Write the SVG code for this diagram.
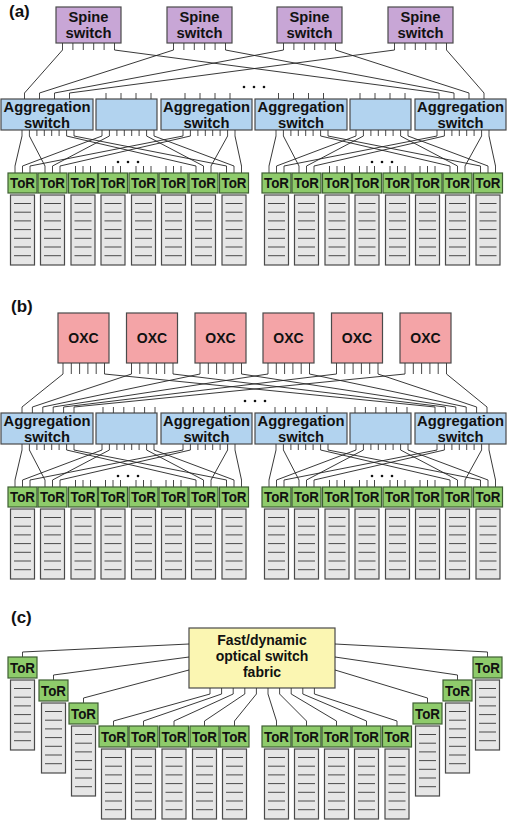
<svg xmlns="http://www.w3.org/2000/svg" xmlns:xlink="http://www.w3.org/1999/xlink" width="508" height="820" viewBox="0 0 508 820">
<style>
.t{font-family:"Liberation Sans",Arial,sans-serif;font-weight:bold;font-size:14px;text-anchor:middle;fill:#111}
.tt{font-family:"Liberation Sans",Arial,sans-serif;font-weight:bold;font-size:15px;text-anchor:middle;fill:#111}
.lb{font-family:"Liberation Sans",Arial,sans-serif;font-weight:bold;font-size:17px;fill:#111}
.sp{fill:#c8a6d6;stroke:#4a4a4a;stroke-width:1.2}
.ag{fill:#b2d3ef;stroke:#4a4a4a;stroke-width:1.2}
.ox{fill:#f4a4a7;stroke:#4a4a4a;stroke-width:1.2}
.fb{fill:#fbf6b2;stroke:#4a4a4a;stroke-width:1.2}
.tr{fill:#8ecb6b;stroke:#3e5f33;stroke-width:1.2}
.rk{fill:#e6e6e6;stroke:#4a4a4a;stroke-width:1.2}
.rl{stroke:#4a4a4a;stroke-width:1;fill:none}
.pt{stroke:#333;stroke-width:0.9;fill:none}
.w{stroke:#222;stroke-width:0.9;fill:none}
.dt{fill:#111}
</style>
<defs>
<g id="rack"><rect class="rk" width="24" height="70"/><path class="rl" d="M3.5 8.5h17M3.5 17.2h17M3.5 25.9h17M3.5 34.6h17M3.5 43.3h17M3.5 52h17M3.5 60.7h17"/></g>
<path id="tk3" class="pt" d="M7 0v7M14.5 0v7M22 0v7"/>
<path id="tk1" class="pt" d="M14.5 0v5"/>
</defs>

<text class="lb" x="9" y="17">(a)</text>
<text class="lb" x="11" y="312">(b)</text>
<text class="lb" x="11" y="623">(c)</text>

<!-- ===== Panel (a) ===== -->
<g id="a-spine1"><rect class="sp" x="56" y="7" width="65" height="36"/><text class="t" x="88.5" y="21.5" textLength="40" lengthAdjust="spacingAndGlyphs">Spine</text><text class="t" x="88.5" y="37.5" textLength="46" lengthAdjust="spacingAndGlyphs">switch</text><path class="pt" d="M62.5 43v7M72.9 43v7M83.3 43v7M93.7 43v7M104.1 43v7M114.5 43v7"/></g>
<g id="a-spine2"><rect class="sp" x="167" y="7" width="65" height="36"/><text class="t" x="199.5" y="21.5" textLength="40" lengthAdjust="spacingAndGlyphs">Spine</text><text class="t" x="199.5" y="37.5" textLength="46" lengthAdjust="spacingAndGlyphs">switch</text><path class="pt" d="M173.5 43v7M183.9 43v7M194.3 43v7M204.7 43v7M215.1 43v7M225.5 43v7"/></g>
<g id="a-spine3"><rect class="sp" x="277" y="7" width="65" height="36"/><text class="t" x="309.5" y="21.5" textLength="40" lengthAdjust="spacingAndGlyphs">Spine</text><text class="t" x="309.5" y="37.5" textLength="46" lengthAdjust="spacingAndGlyphs">switch</text><path class="pt" d="M283.5 43v7M293.9 43v7M304.3 43v7M314.7 43v7M325.1 43v7M335.5 43v7"/></g>
<g id="a-spine4"><rect class="sp" x="388" y="7" width="65" height="36"/><text class="t" x="420.5" y="21.5" textLength="40" lengthAdjust="spacingAndGlyphs">Spine</text><text class="t" x="420.5" y="37.5" textLength="46" lengthAdjust="spacingAndGlyphs">switch</text><path class="pt" d="M394.5 43v7M404.9 43v7M415.3 43v7M425.7 43v7M436.1 43v7M446.5 43v7"/></g>

<g id="a-agg1"><rect class="ag" x="1" y="99" width="92" height="31"/><text class="t" x="47" y="111.5" textLength="87" lengthAdjust="spacingAndGlyphs">Aggregation</text><text class="t" x="47" y="127.5" textLength="46" lengthAdjust="spacingAndGlyphs">switch</text><path class="pt" d="M24.5 93v6M39.5 93v6M54.5 93v6M69.5 93v6M22 130v6M29.4 130v6M36.9 130v6M44.3 130v6M51.7 130v6M59.1 130v6M66.6 130v6M74 130v6"/></g>
<g id="a-agg2"><rect class="ag" x="96" y="99" width="61" height="31"/><path class="pt" d="M106 93v6M121 93v6M136 93v6M151 93v6M102 130v6M109.4 130v6M116.9 130v6M124.3 130v6M131.7 130v6M139.1 130v6M146.6 130v6M154 130v6"/></g>
<g id="a-agg3"><rect class="ag" x="161" y="99" width="91" height="31"/><text class="t" x="206.5" y="111.5" textLength="87" lengthAdjust="spacingAndGlyphs">Aggregation</text><text class="t" x="206.5" y="127.5" textLength="46" lengthAdjust="spacingAndGlyphs">switch</text><path class="pt" d="M185 93v6M200 93v6M215 93v6M230 93v6M183 130v6M190.4 130v6M197.9 130v6M205.3 130v6M212.7 130v6M220.1 130v6M227.6 130v6M235 130v6"/></g>
<g id="a-agg4"><rect class="ag" x="255" y="99" width="92" height="31"/><text class="t" x="301" y="111.5" textLength="87" lengthAdjust="spacingAndGlyphs">Aggregation</text><text class="t" x="301" y="127.5" textLength="46" lengthAdjust="spacingAndGlyphs">switch</text><path class="pt" d="M278.5 93v6M293.5 93v6M308.5 93v6M323.5 93v6M276 130v6M283.4 130v6M290.9 130v6M298.3 130v6M305.7 130v6M313.1 130v6M320.6 130v6M328 130v6"/></g>
<g id="a-agg5"><rect class="ag" x="350" y="99" width="61" height="31"/><path class="pt" d="M360 93v6M375 93v6M390 93v6M405 93v6M356 130v6M363.4 130v6M370.9 130v6M378.3 130v6M385.7 130v6M393.1 130v6M400.6 130v6M408 130v6"/></g>
<g id="a-agg6"><rect class="ag" x="415" y="99" width="91" height="31"/><text class="t" x="460.5" y="111.5" textLength="87" lengthAdjust="spacingAndGlyphs">Aggregation</text><text class="t" x="460.5" y="127.5" textLength="46" lengthAdjust="spacingAndGlyphs">switch</text><path class="pt" d="M439 93v6M454 93v6M469 93v6M484 93v6M437 130v6M444.4 130v6M451.9 130v6M459.3 130v6M466.7 130v6M474.1 130v6M481.6 130v6M489 130v6"/></g>

<g id="a-tor1" transform="translate(8,166)"><use href="#tk3"/><rect class="tr" y="7" width="29" height="20"/><text class="tt" x="14.5" y="22" textLength="25" lengthAdjust="spacingAndGlyphs">ToR</text><use href="#rack" x="2.5" y="29"/></g>
<g id="a-tor2" transform="translate(38,166)"><use href="#tk3"/><rect class="tr" y="7" width="29" height="20"/><text class="tt" x="14.5" y="22" textLength="25" lengthAdjust="spacingAndGlyphs">ToR</text><use href="#rack" x="2.5" y="29"/></g>
<g id="a-tor3" transform="translate(68.5,166)"><use href="#tk3"/><rect class="tr" y="7" width="29" height="20"/><text class="tt" x="14.5" y="22" textLength="25" lengthAdjust="spacingAndGlyphs">ToR</text><use href="#rack" x="2.5" y="29"/></g>
<g id="a-tor4" transform="translate(98.5,166)"><use href="#tk3"/><rect class="tr" y="7" width="29" height="20"/><text class="tt" x="14.5" y="22" textLength="25" lengthAdjust="spacingAndGlyphs">ToR</text><use href="#rack" x="2.5" y="29"/></g>
<g id="a-tor5" transform="translate(129,166)"><use href="#tk3"/><rect class="tr" y="7" width="29" height="20"/><text class="tt" x="14.5" y="22" textLength="25" lengthAdjust="spacingAndGlyphs">ToR</text><use href="#rack" x="2.5" y="29"/></g>
<g id="a-tor6" transform="translate(159,166)"><use href="#tk3"/><rect class="tr" y="7" width="29" height="20"/><text class="tt" x="14.5" y="22" textLength="25" lengthAdjust="spacingAndGlyphs">ToR</text><use href="#rack" x="2.5" y="29"/></g>
<g id="a-tor7" transform="translate(189,166)"><use href="#tk3"/><rect class="tr" y="7" width="29" height="20"/><text class="tt" x="14.5" y="22" textLength="25" lengthAdjust="spacingAndGlyphs">ToR</text><use href="#rack" x="2.5" y="29"/></g>
<g id="a-tor8" transform="translate(219.5,166)"><use href="#tk3"/><rect class="tr" y="7" width="29" height="20"/><text class="tt" x="14.5" y="22" textLength="25" lengthAdjust="spacingAndGlyphs">ToR</text><use href="#rack" x="2.5" y="29"/></g>
<g id="a-tor9" transform="translate(262,166)"><use href="#tk3"/><rect class="tr" y="7" width="29" height="20"/><text class="tt" x="14.5" y="22" textLength="25" lengthAdjust="spacingAndGlyphs">ToR</text><use href="#rack" x="2.5" y="29"/></g>
<g id="a-tor10" transform="translate(292,166)"><use href="#tk3"/><rect class="tr" y="7" width="29" height="20"/><text class="tt" x="14.5" y="22" textLength="25" lengthAdjust="spacingAndGlyphs">ToR</text><use href="#rack" x="2.5" y="29"/></g>
<g id="a-tor11" transform="translate(322.5,166)"><use href="#tk3"/><rect class="tr" y="7" width="29" height="20"/><text class="tt" x="14.5" y="22" textLength="25" lengthAdjust="spacingAndGlyphs">ToR</text><use href="#rack" x="2.5" y="29"/></g>
<g id="a-tor12" transform="translate(352.5,166)"><use href="#tk3"/><rect class="tr" y="7" width="29" height="20"/><text class="tt" x="14.5" y="22" textLength="25" lengthAdjust="spacingAndGlyphs">ToR</text><use href="#rack" x="2.5" y="29"/></g>
<g id="a-tor13" transform="translate(383,166)"><use href="#tk3"/><rect class="tr" y="7" width="29" height="20"/><text class="tt" x="14.5" y="22" textLength="25" lengthAdjust="spacingAndGlyphs">ToR</text><use href="#rack" x="2.5" y="29"/></g>
<g id="a-tor14" transform="translate(413,166)"><use href="#tk3"/><rect class="tr" y="7" width="29" height="20"/><text class="tt" x="14.5" y="22" textLength="25" lengthAdjust="spacingAndGlyphs">ToR</text><use href="#rack" x="2.5" y="29"/></g>
<g id="a-tor15" transform="translate(443,166)"><use href="#tk3"/><rect class="tr" y="7" width="29" height="20"/><text class="tt" x="14.5" y="22" textLength="25" lengthAdjust="spacingAndGlyphs">ToR</text><use href="#rack" x="2.5" y="29"/></g>
<g id="a-tor16" transform="translate(473.5,166)"><use href="#tk3"/><rect class="tr" y="7" width="29" height="20"/><text class="tt" x="14.5" y="22" textLength="25" lengthAdjust="spacingAndGlyphs">ToR</text><use href="#rack" x="2.5" y="29"/></g>

<g id="a-dots" class="dt"><circle cx="244" cy="87" r="1.3"/><circle cx="254" cy="87" r="1.3"/><circle cx="264" cy="87" r="1.3"/><circle cx="118" cy="162" r="1.3"/><circle cx="128" cy="162" r="1.3"/><circle cx="138" cy="162" r="1.3"/><circle cx="372" cy="162" r="1.3"/><circle cx="382" cy="162" r="1.3"/><circle cx="392" cy="162" r="1.3"/></g>

<g id="a-links" class="w">
<path d="M62.5 50L24.5 93M114.5 50L439 93M173.5 50L39.5 93M225.5 50L454 93M283.5 50L54.5 93M335.5 50L469 93M394.5 50L69.5 93M446.5 50L484 93"/>
<path d="M22 136L15 166M29.4 136L45 166M66.6 136L196 166M74 136L226.5 166M102 136L22.5 166M109.4 136L52.5 166M146.6 136L203.5 166M154 136L234 166M183 136L30 166M190.4 136L60 166M227.6 136L211 166M235 136L241.5 166"/>
<path d="M276 136L269 166M283.4 136L299 166M320.6 136L450 166M328 136L480.5 166M356 136L276.5 166M363.4 136L306.5 166M400.6 136L457.5 166M408 136L488 166M437 136L284 166M444.4 136L314 166M481.6 136L465 166M489 136L495.5 166"/>
</g>

<!-- ===== Panel (b) ===== -->
<g id="b-oxc1"><rect class="ox" x="58" y="313" width="51" height="50"/><text class="t" x="83.5" y="343">OXC</text><path class="pt" d="M63 363v11M71.3 363v11M79.6 363v11M87.9 363v11M96.2 363v11M104.5 363v11"/></g>
<g id="b-oxc2"><rect class="ox" x="126.5" y="313" width="51" height="50"/><text class="t" x="152" y="343">OXC</text><path class="pt" d="M131.5 363v11M139.8 363v11M148.1 363v11M156.4 363v11M164.7 363v11M173 363v11"/></g>
<g id="b-oxc3"><rect class="ox" x="195" y="313" width="51" height="50"/><text class="t" x="220.5" y="343">OXC</text><path class="pt" d="M200 363v11M208.3 363v11M216.6 363v11M224.9 363v11M233.2 363v11M241.5 363v11"/></g>
<g id="b-oxc4"><rect class="ox" x="263" y="313" width="51" height="50"/><text class="t" x="288.5" y="343">OXC</text><path class="pt" d="M268 363v11M276.3 363v11M284.6 363v11M292.9 363v11M301.2 363v11M309.5 363v11"/></g>
<g id="b-oxc5"><rect class="ox" x="331.5" y="313" width="51" height="50"/><text class="t" x="357" y="343">OXC</text><path class="pt" d="M336.5 363v11M344.8 363v11M353.1 363v11M361.4 363v11M369.7 363v11M378 363v11"/></g>
<g id="b-oxc6"><rect class="ox" x="400" y="313" width="51" height="50"/><text class="t" x="425.5" y="343">OXC</text><path class="pt" d="M405 363v11M413.3 363v11M421.6 363v11M429.9 363v11M438.2 363v11M446.5 363v11"/></g>

<g id="b-agg1"><rect class="ag" x="1" y="413" width="92" height="31"/><text class="t" x="47" y="425.5" textLength="87" lengthAdjust="spacingAndGlyphs">Aggregation</text><text class="t" x="47" y="441.5" textLength="46" lengthAdjust="spacingAndGlyphs">switch</text><path class="pt" d="M22 407v6M32.4 407v6M42.8 407v6M53.2 407v6M63.6 407v6M74 407v6M22 444v6M29.4 444v6M36.9 444v6M44.3 444v6M51.7 444v6M59.1 444v6M66.6 444v6M74 444v6"/></g>
<g id="b-agg2"><rect class="ag" x="96" y="413" width="61" height="31"/><path class="pt" d="M103 407v6M113.4 407v6M123.8 407v6M134.2 407v6M144.6 407v6M155 407v6M102 444v6M109.4 444v6M116.9 444v6M124.3 444v6M131.7 444v6M139.1 444v6M146.6 444v6M154 444v6"/></g>
<g id="b-agg3"><rect class="ag" x="161" y="413" width="91" height="31"/><text class="t" x="206.5" y="425.5" textLength="87" lengthAdjust="spacingAndGlyphs">Aggregation</text><text class="t" x="206.5" y="441.5" textLength="46" lengthAdjust="spacingAndGlyphs">switch</text><path class="pt" d="M183 407v6M193.4 407v6M203.8 407v6M214.2 407v6M224.6 407v6M235 407v6M183 444v6M190.4 444v6M197.9 444v6M205.3 444v6M212.7 444v6M220.1 444v6M227.6 444v6M235 444v6"/></g>
<g id="b-agg4"><rect class="ag" x="255" y="413" width="92" height="31"/><text class="t" x="301" y="425.5" textLength="87" lengthAdjust="spacingAndGlyphs">Aggregation</text><text class="t" x="301" y="441.5" textLength="46" lengthAdjust="spacingAndGlyphs">switch</text><path class="pt" d="M275 407v6M285.4 407v6M295.8 407v6M306.2 407v6M316.6 407v6M327 407v6M276 444v6M283.4 444v6M290.9 444v6M298.3 444v6M305.7 444v6M313.1 444v6M320.6 444v6M328 444v6"/></g>
<g id="b-agg5"><rect class="ag" x="350" y="413" width="61" height="31"/><path class="pt" d="M355 407v6M365.4 407v6M375.8 407v6M386.2 407v6M396.6 407v6M407 407v6M356 444v6M363.4 444v6M370.9 444v6M378.3 444v6M385.7 444v6M393.1 444v6M400.6 444v6M408 444v6"/></g>
<g id="b-agg6"><rect class="ag" x="415" y="413" width="91" height="31"/><text class="t" x="460.5" y="425.5" textLength="87" lengthAdjust="spacingAndGlyphs">Aggregation</text><text class="t" x="460.5" y="441.5" textLength="46" lengthAdjust="spacingAndGlyphs">switch</text><path class="pt" d="M435 407v6M445.4 407v6M455.8 407v6M466.2 407v6M476.6 407v6M487 407v6M437 444v6M444.4 444v6M451.9 444v6M459.3 444v6M466.7 444v6M474.1 444v6M481.6 444v6M489 444v6"/></g>

<g id="b-tor1" transform="translate(8,480)"><use href="#tk3"/><rect class="tr" y="7" width="29" height="20"/><text class="tt" x="14.5" y="22" textLength="25" lengthAdjust="spacingAndGlyphs">ToR</text><use href="#rack" x="2.5" y="29"/></g>
<g id="b-tor2" transform="translate(38,480)"><use href="#tk3"/><rect class="tr" y="7" width="29" height="20"/><text class="tt" x="14.5" y="22" textLength="25" lengthAdjust="spacingAndGlyphs">ToR</text><use href="#rack" x="2.5" y="29"/></g>
<g id="b-tor3" transform="translate(68.5,480)"><use href="#tk3"/><rect class="tr" y="7" width="29" height="20"/><text class="tt" x="14.5" y="22" textLength="25" lengthAdjust="spacingAndGlyphs">ToR</text><use href="#rack" x="2.5" y="29"/></g>
<g id="b-tor4" transform="translate(98.5,480)"><use href="#tk3"/><rect class="tr" y="7" width="29" height="20"/><text class="tt" x="14.5" y="22" textLength="25" lengthAdjust="spacingAndGlyphs">ToR</text><use href="#rack" x="2.5" y="29"/></g>
<g id="b-tor5" transform="translate(129,480)"><use href="#tk3"/><rect class="tr" y="7" width="29" height="20"/><text class="tt" x="14.5" y="22" textLength="25" lengthAdjust="spacingAndGlyphs">ToR</text><use href="#rack" x="2.5" y="29"/></g>
<g id="b-tor6" transform="translate(159,480)"><use href="#tk3"/><rect class="tr" y="7" width="29" height="20"/><text class="tt" x="14.5" y="22" textLength="25" lengthAdjust="spacingAndGlyphs">ToR</text><use href="#rack" x="2.5" y="29"/></g>
<g id="b-tor7" transform="translate(189,480)"><use href="#tk3"/><rect class="tr" y="7" width="29" height="20"/><text class="tt" x="14.5" y="22" textLength="25" lengthAdjust="spacingAndGlyphs">ToR</text><use href="#rack" x="2.5" y="29"/></g>
<g id="b-tor8" transform="translate(219.5,480)"><use href="#tk3"/><rect class="tr" y="7" width="29" height="20"/><text class="tt" x="14.5" y="22" textLength="25" lengthAdjust="spacingAndGlyphs">ToR</text><use href="#rack" x="2.5" y="29"/></g>
<g id="b-tor9" transform="translate(262,480)"><use href="#tk3"/><rect class="tr" y="7" width="29" height="20"/><text class="tt" x="14.5" y="22" textLength="25" lengthAdjust="spacingAndGlyphs">ToR</text><use href="#rack" x="2.5" y="29"/></g>
<g id="b-tor10" transform="translate(292,480)"><use href="#tk3"/><rect class="tr" y="7" width="29" height="20"/><text class="tt" x="14.5" y="22" textLength="25" lengthAdjust="spacingAndGlyphs">ToR</text><use href="#rack" x="2.5" y="29"/></g>
<g id="b-tor11" transform="translate(322.5,480)"><use href="#tk3"/><rect class="tr" y="7" width="29" height="20"/><text class="tt" x="14.5" y="22" textLength="25" lengthAdjust="spacingAndGlyphs">ToR</text><use href="#rack" x="2.5" y="29"/></g>
<g id="b-tor12" transform="translate(352.5,480)"><use href="#tk3"/><rect class="tr" y="7" width="29" height="20"/><text class="tt" x="14.5" y="22" textLength="25" lengthAdjust="spacingAndGlyphs">ToR</text><use href="#rack" x="2.5" y="29"/></g>
<g id="b-tor13" transform="translate(383,480)"><use href="#tk3"/><rect class="tr" y="7" width="29" height="20"/><text class="tt" x="14.5" y="22" textLength="25" lengthAdjust="spacingAndGlyphs">ToR</text><use href="#rack" x="2.5" y="29"/></g>
<g id="b-tor14" transform="translate(413,480)"><use href="#tk3"/><rect class="tr" y="7" width="29" height="20"/><text class="tt" x="14.5" y="22" textLength="25" lengthAdjust="spacingAndGlyphs">ToR</text><use href="#rack" x="2.5" y="29"/></g>
<g id="b-tor15" transform="translate(443,480)"><use href="#tk3"/><rect class="tr" y="7" width="29" height="20"/><text class="tt" x="14.5" y="22" textLength="25" lengthAdjust="spacingAndGlyphs">ToR</text><use href="#rack" x="2.5" y="29"/></g>
<g id="b-tor16" transform="translate(473.5,480)"><use href="#tk3"/><rect class="tr" y="7" width="29" height="20"/><text class="tt" x="14.5" y="22" textLength="25" lengthAdjust="spacingAndGlyphs">ToR</text><use href="#rack" x="2.5" y="29"/></g>

<g id="b-dots" class="dt"><circle cx="245" cy="401" r="1.3"/><circle cx="255" cy="401" r="1.3"/><circle cx="265" cy="401" r="1.3"/><circle cx="118" cy="476" r="1.3"/><circle cx="128" cy="476" r="1.3"/><circle cx="138" cy="476" r="1.3"/><circle cx="372" cy="476" r="1.3"/><circle cx="382" cy="476" r="1.3"/><circle cx="392" cy="476" r="1.3"/></g>

<g id="b-links" class="w">
<path d="M63 374L22 407M104.5 374L435 407M131.5 374L32.4 407M173 374L445.4 407M200 374L42.8 407M241.5 374L455.8 407M268 374L53.2 407M309.5 374L466.2 407M336.5 374L63.6 407M378 374L476.6 407M405 374L74 407M446.5 374L487 407"/>
<path d="M22 450L15 480M29.4 450L45 480M66.6 450L196 480M74 450L226.5 480M102 450L22.5 480M109.4 450L52.5 480M146.6 450L203.5 480M154 450L234 480M183 450L30 480M190.4 450L60 480M227.6 450L211 480M235 450L241.5 480"/>
<path d="M276 450L269 480M283.4 450L299 480M320.6 450L450 480M328 450L480.5 480M356 450L276.5 480M363.4 450L306.5 480M400.6 450L457.5 480M408 450L488 480M437 450L284 480M444.4 450L314 480M481.6 450L465 480M489 450L495.5 480"/>
</g>

<!-- ===== Panel (c) ===== -->
<g id="c-fabric"><rect class="fb" x="189" y="628" width="146" height="60"/><text class="t" x="262" y="645">Fast/dynamic</text><text class="t" x="262" y="661">optical switch</text><text class="t" x="262" y="677">fabric</text><path class="pt" d="M210 688v6M221.6 688v6M233.2 688v6M244.8 688v6M256.4 688v6M268 688v6M279.6 688v6M291.2 688v6M302.8 688v6M314.4 688v6"/></g>

<g id="c-tor1" transform="translate(8,652)"><use href="#tk1"/><rect class="tr" y="5" width="29" height="21"/><text class="tt" x="14.5" y="20.5" textLength="25" lengthAdjust="spacingAndGlyphs">ToR</text><use href="#rack" x="2.5" y="28"/></g>
<g id="c-tor2" transform="translate(39,675)"><use href="#tk1"/><rect class="tr" y="5" width="29" height="21"/><text class="tt" x="14.5" y="20.5" textLength="25" lengthAdjust="spacingAndGlyphs">ToR</text><use href="#rack" x="2.5" y="28"/></g>
<g id="c-tor3" transform="translate(69,698)"><use href="#tk1"/><rect class="tr" y="5" width="29" height="21"/><text class="tt" x="14.5" y="20.5" textLength="25" lengthAdjust="spacingAndGlyphs">ToR</text><use href="#rack" x="2.5" y="28"/></g>
<g id="c-tor4" transform="translate(99,721)"><use href="#tk1"/><rect class="tr" y="5" width="29" height="21"/><text class="tt" x="14.5" y="20.5" textLength="25" lengthAdjust="spacingAndGlyphs">ToR</text><use href="#rack" x="2.5" y="28"/></g>
<g id="c-tor5" transform="translate(129,721)"><use href="#tk1"/><rect class="tr" y="5" width="29" height="21"/><text class="tt" x="14.5" y="20.5" textLength="25" lengthAdjust="spacingAndGlyphs">ToR</text><use href="#rack" x="2.5" y="28"/></g>
<g id="c-tor6" transform="translate(159.5,721)"><use href="#tk1"/><rect class="tr" y="5" width="29" height="21"/><text class="tt" x="14.5" y="20.5" textLength="25" lengthAdjust="spacingAndGlyphs">ToR</text><use href="#rack" x="2.5" y="28"/></g>
<g id="c-tor7" transform="translate(190,721)"><use href="#tk1"/><rect class="tr" y="5" width="29" height="21"/><text class="tt" x="14.5" y="20.5" textLength="25" lengthAdjust="spacingAndGlyphs">ToR</text><use href="#rack" x="2.5" y="28"/></g>
<g id="c-tor8" transform="translate(220,721)"><use href="#tk1"/><rect class="tr" y="5" width="29" height="21"/><text class="tt" x="14.5" y="20.5" textLength="25" lengthAdjust="spacingAndGlyphs">ToR</text><use href="#rack" x="2.5" y="28"/></g>
<g id="c-tor9" transform="translate(262,721)"><use href="#tk1"/><rect class="tr" y="5" width="29" height="21"/><text class="tt" x="14.5" y="20.5" textLength="25" lengthAdjust="spacingAndGlyphs">ToR</text><use href="#rack" x="2.5" y="28"/></g>
<g id="c-tor10" transform="translate(292,721)"><use href="#tk1"/><rect class="tr" y="5" width="29" height="21"/><text class="tt" x="14.5" y="20.5" textLength="25" lengthAdjust="spacingAndGlyphs">ToR</text><use href="#rack" x="2.5" y="28"/></g>
<g id="c-tor11" transform="translate(322,721)"><use href="#tk1"/><rect class="tr" y="5" width="29" height="21"/><text class="tt" x="14.5" y="20.5" textLength="25" lengthAdjust="spacingAndGlyphs">ToR</text><use href="#rack" x="2.5" y="28"/></g>
<g id="c-tor12" transform="translate(352,721)"><use href="#tk1"/><rect class="tr" y="5" width="29" height="21"/><text class="tt" x="14.5" y="20.5" textLength="25" lengthAdjust="spacingAndGlyphs">ToR</text><use href="#rack" x="2.5" y="28"/></g>
<g id="c-tor13" transform="translate(382.5,721)"><use href="#tk1"/><rect class="tr" y="5" width="29" height="21"/><text class="tt" x="14.5" y="20.5" textLength="25" lengthAdjust="spacingAndGlyphs">ToR</text><use href="#rack" x="2.5" y="28"/></g>
<g id="c-tor14" transform="translate(413,698)"><use href="#tk1"/><rect class="tr" y="5" width="29" height="21"/><text class="tt" x="14.5" y="20.5" textLength="25" lengthAdjust="spacingAndGlyphs">ToR</text><use href="#rack" x="2.5" y="28"/></g>
<g id="c-tor15" transform="translate(443,675)"><use href="#tk1"/><rect class="tr" y="5" width="29" height="21"/><text class="tt" x="14.5" y="20.5" textLength="25" lengthAdjust="spacingAndGlyphs">ToR</text><use href="#rack" x="2.5" y="28"/></g>
<g id="c-tor16" transform="translate(473,652)"><use href="#tk1"/><rect class="tr" y="5" width="29" height="21"/><text class="tt" x="14.5" y="20.5" textLength="25" lengthAdjust="spacingAndGlyphs">ToR</text><use href="#rack" x="2.5" y="28"/></g>

<g id="c-links" class="w">
<path d="M189 644L22.5 652M189 657L53.5 675M189 670L83.5 698"/>
<path d="M210 694L113.5 721M221.6 694L143.5 721M233.2 694L174 721M244.8 694L204.5 721M256.4 694L234.5 721M268 694L276.5 721M279.6 694L306.5 721M291.2 694L336.5 721M302.8 694L366.5 721M314.4 694L397 721"/>
<path d="M335 670L427.5 698M335 657L457.5 675M335 644L487.5 652"/>
</g>
</svg>
